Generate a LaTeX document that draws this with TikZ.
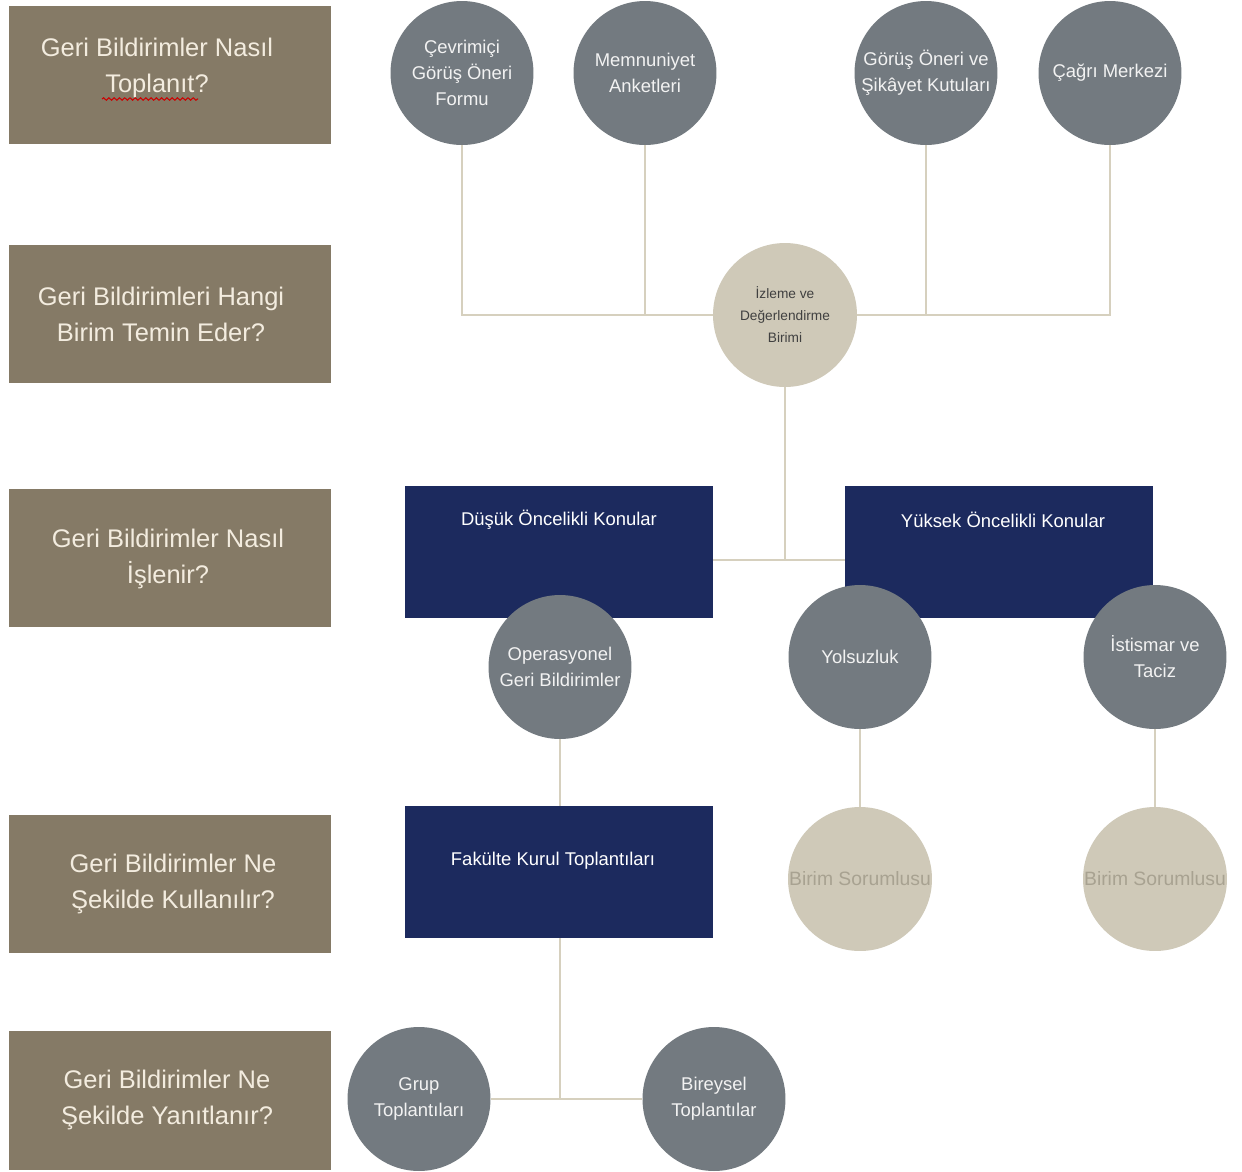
\documentclass[tikz,border=0pt]{standalone}
\usepackage{fontspec}
\setmainfont{Liberation Sans}
\usetikzlibrary{shapes.geometric,backgrounds,decorations.pathmorphing}
\definecolor{qbrown}{HTML}{857A66}
\definecolor{qnavy}{HTML}{1C2A5E}
\definecolor{qgray}{HTML}{737A80}
\definecolor{qbeige}{HTML}{CFC9B8}
\definecolor{qline}{HTML}{D6D0BE}
\definecolor{qcream}{HTML}{F3ECDF}
\definecolor{qbstext}{HTML}{A8A291}
\definecolor{qctext}{HTML}{F2F2F2}
\tikzset{
  qbox/.style={rectangle, fill=qbrown, minimum width=6.46cm, minimum height=2.78cm, inner sep=0pt},
  qtext/.style={text=qcream, inner sep=0pt, align=center, font=\fontsize{14.5}{20.5}\selectfont},
  navybox/.style={rectangle, fill=qnavy, minimum width=6.16cm, minimum height=2.64cm, inner sep=0pt},
  navytext/.style={text=white, font=\fontsize{10.5}{13}\selectfont, inner sep=0pt},
  gcirc/.style={ellipse, fill=qgray, minimum width=2.86cm, minimum height=2.88cm, inner sep=0pt},
  bcirc/.style={ellipse, fill=qbeige, minimum width=2.88cm, minimum height=2.88cm, inner sep=0pt},
  gtext/.style={text=qctext, inner sep=0pt, align=center, font=\fontsize{10.5}{14.8}\selectfont},
  itext/.style={text=black!75, inner sep=0pt, align=center, font=\fontsize{7.8}{12.5}\selectfont},
  bstext/.style={text=qbstext, inner sep=0pt, align=center, font=\fontsize{11}{14}\selectfont},
  conn/.style={draw=qline, line width=0.9pt},
}
\begin{document}
\begin{tikzpicture}[x=0.02cm, y=-0.02cm]
\useasboundingbox (0,0) rectangle (1242,1171);

% left question boxes
\node[qbox] (q1) at (170,75) {};
\node[qtext] (q1t) at (157,68) {Geri Bildirimler Nasıl\\Toplanıt?};
\node[qbox] (q2) at (170,314) {};
\node[qtext] (q2t) at (161,314) {Geri Bildirimleri Hangi\\Birim Temin Eder?};
\node[qbox] (q3) at (170,558) {};
\node[qtext] (q3t) at (168,559) {Geri Bildirimler Nasıl\\İşlenir?};
\node[qbox] (q4) at (170,884) {};
\node[qtext] (q4t) at (173,884) {Geri Bildirimler Ne\\Şekilde Kullanılır?};
\node[qbox] (q5) at (170,1100) {};
\node[qtext] (q5t) at (167,1100) {Geri Bildirimler Ne\\Şekilde Yanıtlanır?};
\draw[red!80!black, line width=0.6pt, decorate, decoration={snake, amplitude=0.7pt, segment length=3pt}] (102,99) -- (198,99);

% top sources
\node[gcirc, label={[gtext]center:Çevrimiçi\\Görüş Öneri\\Formu}] (c1) at (462,73) {};
\node[gcirc, label={[gtext]center:Memnuniyet\\Anketleri}] (c2) at (645,73) {};
\node[gcirc, label={[gtext]center:Görüş Öneri ve\\Şikâyet Kutuları}] (c3) at (926,73) {};
\node[gcirc, label={[gtext]center:Çağrı Merkezi}] (c4) at (1110,73) {};

% monitoring unit
\node[bcirc, label={[itext]center:İzleme ve\\Değerlendirme\\Birimi}] (izl) at (785,315) {};

% priority boxes
\node[navybox] (dus) at (559,552) {};
\node[navytext] (dust) at (559,520) {Düşük Öncelikli Konular};
\node[navybox] (yuk) at (999,552) {};
\node[navytext] (yukt) at (1003,520) {Yüksek Öncelikli Konular};
\coordinate (j2) at (785,560);

% second level circles
\node[gcirc, label={[gtext]center:Operasyonel\\Geri Bildirimler}] (op) at (560,667) {};
\node[gcirc, label={[gtext]center:Yolsuzluk}] (yol) at (860,657) {};
\node[gcirc, label={[gtext]center:İstismar ve\\Taciz}] (ist) at (1155,657) {};

\node[bcirc, label={[bstext]center:Birim Sorumlusu}] (bs1) at (860,879) {};
\node[bcirc, label={[bstext]center:Birim Sorumlusu}] (bs2) at (1155,879) {};

\node[navybox] (fak) at (559,872) {};
\node[navytext] (fakt) at (553,861) {Fakülte Kurul Toplantıları};

\node[gcirc, label={[gtext]center:Grup\\Toplantıları}] (grup) at (419,1099) {};
\node[gcirc, label={[gtext]center:Bireysel\\Toplantılar}] (bir) at (714,1099) {};

\begin{scope}[on background layer]
\fill[white] (0,0) rectangle (1242,1171);
\draw[conn] (c1.south) -- (c1.south |- izl.center) -- (c4.south |- izl.center) -- (c4.south);
\draw[conn] (c2.south) -- (c2.south |- izl.center);
\draw[conn] (c3.south) -- (c3.south |- izl.center);
\draw[conn] (izl.south) -- (j2);
\draw[conn] (dus.east |- j2) -- (yuk.west |- j2);
\draw[conn] (op.south) -- (op.south |- fak.north);
\draw[conn] (yol.south) -- (bs1.north);
\draw[conn] (ist.south) -- (bs2.north);
\draw[conn] (fak.south -| op.south) -- (op.south |- grup.center);
\draw[conn] (grup.east) -- (bir.west);
\end{scope}
\end{tikzpicture}
\end{document}
